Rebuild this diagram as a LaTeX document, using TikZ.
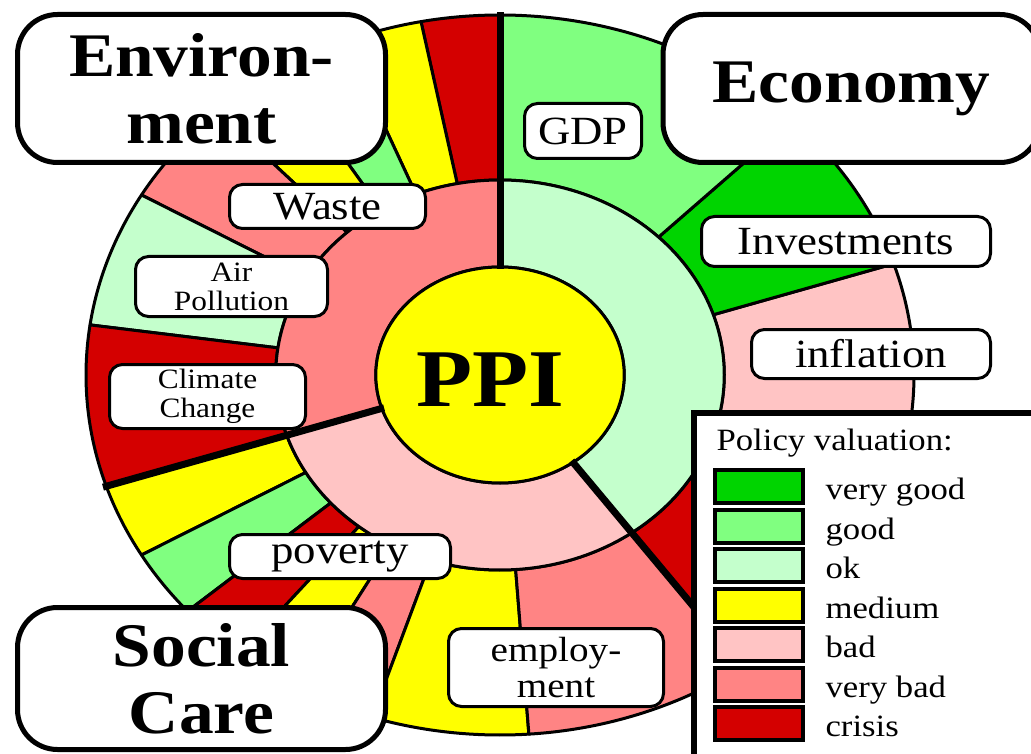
\documentclass[tikz,border=0pt]{standalone}
\usepackage{fontspec}
\setmainfont[FakeStretch=1.12]{Liberation Serif}
\usetikzlibrary{positioning}

\definecolor{verygoodfill}{RGB}{0,212,0}
\definecolor{goodfill}{RGB}{128,255,128}
\definecolor{okfill}{RGB}{196,255,204}
\definecolor{mediumfill}{RGB}{255,255,0}
\definecolor{badfill}{RGB}{255,196,196}
\definecolor{verybadfill}{RGB}{255,132,132}
\definecolor{crisisfill}{RGB}{212,0,0}

\begin{document}
\begin{tikzpicture}[
        x=1pt, y=-1pt,
        wedge/.style={draw=black, line width=3pt, line join=round},
        divider/.style={draw=black, line width=7pt},
        bigbox/.style={
            draw=black, fill=white, line width=5pt,
            rounded corners=40pt, align=center, inner sep=2pt,
            font=\fontsize{62}{67}\selectfont\bfseries
        },
        smallbox/.style={
            draw=black, fill=white, line width=3pt,
            rounded corners=13pt, align=center, inner sep=2pt,
            font=\fontsize{40}{40}\selectfont
        },
        swatch/.style={
            draw=black, line width=4pt,
            minimum width=88pt, minimum height=33pt
        },
    ]

    % frame
    \useasboundingbox (0,0) rectangle (1031,754);
    \clip (0,0) rectangle (1031,754);

    % pie
    \begin{scope}[shift={(500,375)}, xscale=1.15, yscale=-1]

        % outer ring: one wedge per policy
        \foreach \from/\to/\col in {
                90/101/crisisfill, 101/112/mediumfill, 112/122/goodfill,
                122/133/mediumfill, 133/150/verybadfill, 150/172/okfill,
                172/198/crisisfill,
                198/210/mediumfill, 210/221/goodfill, 221/231/crisisfill,
                231/241/mediumfill, 241/252/verybadfill, 252/274/mediumfill,
                274/306/verybadfill,
                306/340/crisisfill, 340/378/badfill, 378/405/verygoodfill,
                405/450/goodfill}
            \filldraw[wedge, fill=\col]
                (\from:195) arc[start angle=\from, end angle=\to, radius=195] --
                (\to:360) arc[start angle=\to, end angle=\from, radius=360] --
                cycle;

        % inner ring: one sector per area
        \foreach \from/\to/\col in {
                90/198/verybadfill, 198/306/badfill, 306/450/okfill}
            \filldraw[wedge, fill=\col]
                (\from:108) arc[start angle=\from, end angle=\to, radius=108] --
                (\to:195) arc[start angle=\to, end angle=\from, radius=195] --
                cycle;

        % centre
        \filldraw[wedge, fill=mediumfill] (0,0) circle[radius=108];

        % area borders
        \draw[divider] (90:106) -- (90:363);
        \draw[divider] (198:106) -- (198:363);
        \draw[divider] (306:106) -- (306:363);

    \end{scope}

    \node[font=\fontsize{82}{82}\selectfont\bfseries] (ppi) at (490,380) {PPI};

    % areas
    \node[bigbox, minimum width=368pt, minimum height=148pt]
        (environment) at (201.5,88.5) {Environ-\\ment};
    \node[bigbox, minimum width=377pt, minimum height=148pt]
        (economy) at (851.5,88.5) {Economy};
    \node[bigbox, minimum width=368pt, minimum height=142pt]
        (socialcare) at (201.5,678.5) {Social\\Care};

    % policies
    \node[smallbox, minimum width=196pt, minimum height=44pt]
        (waste) at (327.5,206.5) {Waste};
    \node[smallbox, minimum width=192pt, minimum height=60pt,
          font=\fontsize{28}{29}\selectfont]
        (airpollution) at (231.5,286.5) {Air\\Pollution};
    \node[smallbox, minimum width=196pt, minimum height=64pt,
          font=\fontsize{28}{29}\selectfont]
        (climatechange) at (207.5,396.5) {Climate\\Change};
    \node[smallbox, minimum width=117pt, minimum height=55pt]
        (gdp) at (583,131) {GDP};
    \node[smallbox, minimum width=289pt, minimum height=50pt]
        (investments) at (846,241.5) {Investments};
    \node[smallbox, minimum width=239pt, minimum height=49pt]
        (inflation) at (871,354) {inflation};
    \node[smallbox, minimum width=221pt, minimum height=44pt]
        (poverty) at (340,556.5) {poverty};
    \node[smallbox, minimum width=215pt, minimum height=78pt,
          font=\fontsize{35}{36}\selectfont]
        (employment) at (556,667.5) {employ-\\ment};

    % legend
    \node[draw=black, fill=white, line width=6pt, anchor=north west,
          minimum width=400pt, minimum height=400pt]
        (legend) at (691,410) {};
    \node[anchor=base west, font=\fontsize{31}{31}\selectfont]
        (legendtitle) at (713,450) {Policy valuation:};
    \foreach \col/\lab [count=\i] in {
            verygoodfill/very good, goodfill/good, okfill/ok,
            mediumfill/medium, badfill/bad, verybadfill/very bad,
            crisisfill/crisis} {
        \node[swatch, fill=\col] (swatch\i) at (759,447+39.5*\i) {};
        \node[anchor=base west, font=\fontsize{31}{31}\selectfont]
            (valuation\i) at (822,460+39.5*\i) {\lab};
    }

\end{tikzpicture}
\end{document}
